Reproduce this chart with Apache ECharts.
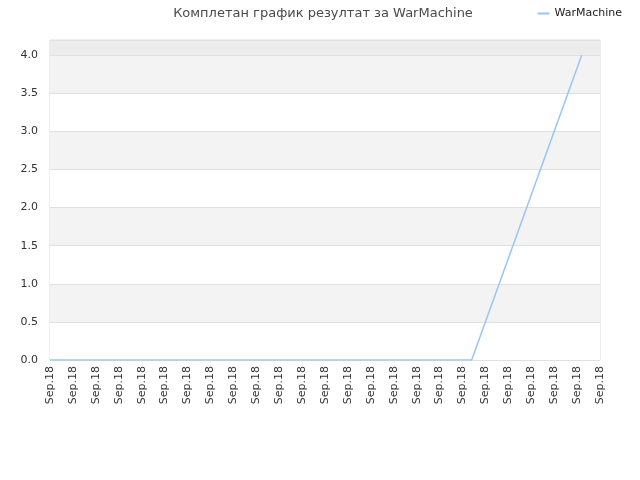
<!DOCTYPE html>
<html>
<head>
<meta charset="utf-8">
<script src="https://cdn.jsdelivr.net/npm/echarts@6/dist/echarts.min.js"></script>
<style>html,body{margin:0;padding:0;background:#fff}#c{width:640px;height:480px}</style>
</head>
<body>
<div id="c"></div>
<script>
var tickLabels = ["Sep.18","Sep.18","Sep.18","Sep.18","Sep.18","Sep.18","Sep.18","Sep.18","Sep.18","Sep.18","Sep.18","Sep.18","Sep.18","Sep.18","Sep.18","Sep.18","Sep.18","Sep.18","Sep.18","Sep.18","Sep.18","Sep.18","Sep.18","Sep.18","Sep.18"];
var seriesName = "WarMachine";
var xPositions = [0, 18.4, 23.2];
var yValues = [0, 0, 4];

var data = xPositions.map(function (x, i) { return [x, yValues[i]]; });
var chart = echarts.init(document.getElementById('c'));
chart.setOption({
  animation: false,
  title: {
    text: 'Комплетан график резултат за ' + seriesName,
    left: 318, top: 2, textAlign: 'center',
    textStyle: { fontFamily: 'DejaVu Sans', fontSize: 13, fontWeight: 'normal', color: '#4a4a4a' }
  },
  legend: {
    right: 13, top: 3,
    itemWidth: 12, itemHeight: 2, itemGap: 8,
    icon: 'rect',
    textStyle: { fontFamily: 'DejaVu Sans', fontSize: 11, color: '#222' },
    data: [seriesName]
  },
  grid: { left: 50, right: 40, top: 40, bottom: 120, show: true, borderColor: '#dddddd', borderWidth: 1, backgroundColor: 'transparent' },
  xAxis: {
    type: 'value', min: 0, max: tickLabels.length - 1, interval: 1,
    axisLine: { show: false }, axisTick: { show: false },
    splitLine: { show: false },
    axisLabel: {
      rotate: 90, fontFamily: 'DejaVu Sans', fontSize: 11, color: '#333', margin: 6,
      formatter: function (v) { return tickLabels[Math.round(v)]; }
    }
  },
  yAxis: {
    type: 'value', min: 0, max: 4.2, interval: 0.5,
    axisLine: { show: false }, axisTick: { show: false },
    axisLabel: {
      fontFamily: 'DejaVu Sans', fontSize: 11, color: '#333', margin: 12,
      formatter: function (v) { return v > 4.1 ? '' : v.toFixed(1); },
      showMaxLabel: false
    },
    splitLine: { lineStyle: { color: '#e0e0e0', width: 1 } },
    splitArea: { show: true, areaStyle: { color: ['#ffffff','#f3f3f3','#ffffff','#f3f3f3','#ffffff','#f3f3f3','#ffffff','#f3f3f3','#ececec'] } }
  },
  series: [{
    name: seriesName, type: 'line', data: data,
    showSymbol: false, symbol: 'none',
    lineStyle: { color: '#99c5f3', width: 1.5 },
    itemStyle: { color: '#99c5f3' }
  }]
});
</script>
</body>
</html>
